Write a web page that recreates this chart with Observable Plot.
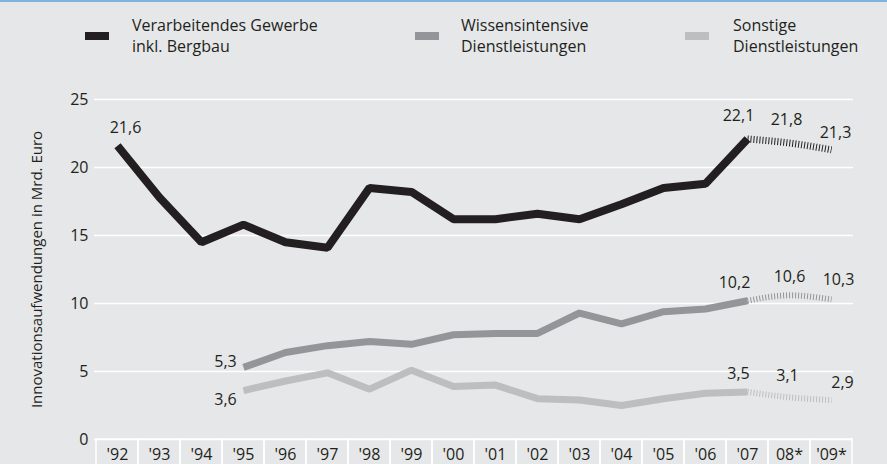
<!DOCTYPE html>
<html><head><meta charset="utf-8">
<script src="https://cdn.jsdelivr.net/npm/d3@7"></script>
<script src="https://cdn.jsdelivr.net/npm/@observablehq/plot@0.6"></script>
<style>
html,body{margin:0;padding:0;background:#e6e7e8;}
#wrap{position:relative;width:887px;height:464px;background:#e6e7e8;overflow:hidden;font-family:"Open Sans",sans-serif;color:#231f20;}
#topline{position:absolute;left:0;top:0;width:887px;height:2px;background:#7db4de;}
#chart{position:absolute;left:0;top:0;}
.leg{position:absolute;top:15px;font-size:16px;line-height:21px;white-space:pre;}
.sw{position:absolute;top:32px;width:24px;height:8px;}
</style></head><body>
<div id="wrap"><div id="chart"></div><div id="legend"></div><div id="topline"></div></div>
<script>
const years = ["'92","'93","'94","'95","'96","'97","'98","'99","'00","'01","'02","'03","'04","'05","'06","'07","08*","'09*"];
const industrie = [21.6,17.8,14.5,15.8,14.5,14.1,18.5,18.2,16.2,16.2,16.6,16.2,17.3,18.5,18.8,22.1,21.8,21.3];
const wissen    = [null,null,null,5.3,6.4,6.9,7.2,7.0,7.7,7.8,7.8,9.3,8.5,9.4,9.6,10.2,10.6,10.3];
const sonstige  = [null,null,null,3.6,4.3,4.9,3.7,5.1,3.9,4.0,3.0,2.9,2.5,3.0,3.4,3.5,3.1,2.9];
const seriesNames = ["Verarbeitendes Gewerbe\ninkl. Bergbau","Wissensintensive\nDienstleistungen","Sonstige\nDienstleistungen"];
const seriesColors = ["#231f20","#939598","#bcbec0"];
const yTicks = [0,5,10,15,20,25];
const yTitle = "Innovationsaufwendungen in Mrd. Euro";
const forecastStart = 15; // '07 is the last measured year, 08*/09* are estimates

const allSeries = [industrie, wissen, sonstige];
const rows = allSeries.map((vals, s) => vals.map((v, i) => ({s, i, year: years[i], value: v})).filter(d => d.value != null));
const fmt = v => v.toFixed(1).replace(".", ",");

// label placement per series: [index, dx, dy]
const labelSpec = [
  [[0, 8, -18], [15, -9, -23], [16, -3, -23], [17, 4, -17]],
  [[3, -18, -6], [15, -13, -18], [16, 0, -18], [17, 7, -20]],
  [[3, -18, 9], [15, -9, -18], [16, -2, -21], [17, 11, -17]]
];
const widths = [8, 7, 7];
const hatchWidths = [7, 6, 6];

const marks = [
  Plot.ruleY(yTicks, {stroke: "white", strokeWidth: 1.5}),
  Plot.barY(years, {x: d => d, y1: 0, y2: 0, insetBottom: -26, fill: "none", stroke: "white", strokeWidth: 1.5}),
  Plot.axisY(yTicks, {tickSize: 0, tickPadding: 6, label: null, fontSize: 16}),
  Plot.axisX(years, {tickSize: 0, tickPadding: 9, label: null, fontSize: 16}),
  Plot.text([yTitle], {frameAnchor: "left", textAnchor: "middle", rotate: -90, dx: -57, fontSize: 15, fill: "#231f20"})
];
rows.forEach((r, s) => {
  marks.push(Plot.line(r.filter(d => d.i <= forecastStart), {x: "year", y: "value", stroke: seriesColors[s], strokeWidth: widths[s], strokeLinejoin: "miter", strokeLinecap: "butt"}));
  marks.push(Plot.line(r.filter(d => d.i >= forecastStart), {x: "year", y: "value", stroke: seriesColors[s], strokeWidth: hatchWidths[s], strokeDasharray: "1,2", strokeLinecap: "butt", curve: "monotone-x"}));
});
rows.forEach((r, s) => {
  labelSpec[s].forEach(([idx, dx, dy]) => {
    marks.push(Plot.text(r.filter(d => d.i === idx), {x: "year", y: "value", text: d => fmt(d.value), dx, dy, fontSize: 16, fill: "#231f20"}));
  });
});

const chart = Plot.plot({
  width: 887, height: 464,
  marginLeft: 94, marginRight: 34, marginTop: 99, marginBottom: 25,
  style: {background: "transparent", fontFamily: "'Open Sans', sans-serif", fontSize: "16px", color: "#231f20"},
  x: {type: "band", domain: years, padding: 0, axis: null},
  y: {domain: [0, 25], axis: null},
  marks
});
document.getElementById("chart").appendChild(chart);

const legend = document.getElementById("legend");
const swX = [85, 415, 685], txX = [132, 461, 733];
seriesNames.forEach((n, s) => {
  const sw = document.createElement("div"); sw.className = "sw"; sw.style.left = swX[s] + "px"; sw.style.background = seriesColors[s]; legend.appendChild(sw);
  const t = document.createElement("div"); t.className = "leg"; t.style.left = txX[s] + "px"; t.textContent = n; legend.appendChild(t);
});
</script>
</body></html>
